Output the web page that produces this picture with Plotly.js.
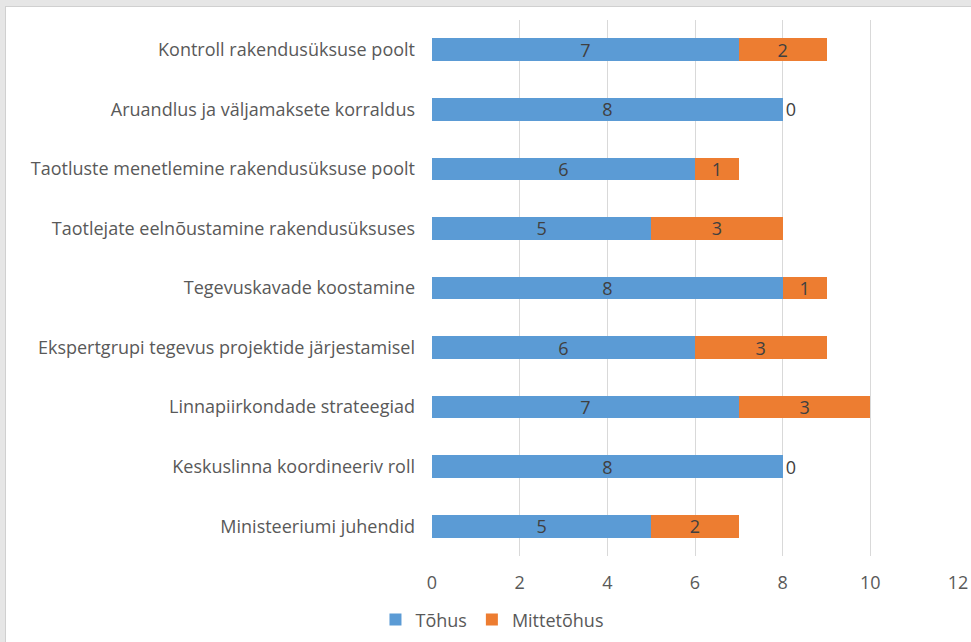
<!DOCTYPE html>
<html>
<head>
<meta charset="utf-8">
<script src="https://cdn.plot.ly/plotly-3.0.1.min.js"></script>
<style>
  html, body { margin: 0; padding: 0; background: #e6e6e6; width: 971px; height: 642px; overflow: hidden; }
  #frame { position: absolute; left: 5px; top: 6px; width: 966px; height: 636px; background: #fff; border-left: 1px solid #d0d0d0; border-top: 1px solid #d0d0d0; }
  #chart { position: absolute; left: 0; top: 0; width: 965px; height: 635px; }
</style>
</head>
<body>
<div id="frame"><div id="chart"></div></div>
<script>
const categories = [
  "Ministeeriumi juhendid",
  "Keskuslinna koordineeriv roll",
  "Linnapiirkondade strateegiad",
  "Ekspertgrupi tegevus projektide järjestamisel",
  "Tegevuskavade koostamine",
  "Taotlejate eelnõustamine rakendusüksuses",
  "Taotluste menetlemine rakendusüksuse poolt",
  "Aruandlus ja väljamaksete korraldus",
  "Kontroll rakendusüksuse poolt"
];
const tohus = [5, 8, 7, 6, 8, 5, 6, 8, 7];
const mittetohus = [2, 0, 3, 3, 1, 3, 1, 0, 2];
const xTicks = [0, 2, 4, 6, 8, 10, 12];

const FONT = "'Open Sans', sans-serif";
const labelFont = {family: FONT, size: 18, color: "#404040"};

function mk(name, vals, color) {
  return {
    type: "bar", orientation: "h", name: name,
    y: categories, x: vals,
    text: vals.map(String),
    textposition: vals.map(v => v === 0 ? "outside" : "inside"),
    textangle: 0,
    insidetextanchor: "middle",
    insidetextfont: labelFont,
    outsidetextfont: labelFont,
    textfont: labelFont,
    constraintext: "none",
    cliponaxis: false,
    marker: {color: color, line: {width: 0}},
    hoverinfo: "x+name"
  };
}

const data = [
  mk("Tõhus", tohus, "#5b9bd5"),
  mk("Mittetõhus", mittetohus, "#ed7d31")
];

const layout = {
  width: 965, height: 635,
  barmode: "stack",
  bargap: 0.62,
  paper_bgcolor: "#ffffff",
  plot_bgcolor: "#ffffff",
  margin: {l: 426, r: 13, t: 13, b: 86, pad: 0, autoexpand: false},
  font: {family: FONT, size: 18, color: "#595959"},
  showlegend: true,
  legend: {
    orientation: "h",
    xref: "container", yref: "container",
    x: 0.5036, xanchor: "center", y: 0.035, yanchor: "middle",
    font: {family: FONT, size: 18, color: "#595959"},
    itemwidth: 30, traceorder: "normal"
  },
  xaxis: {
    range: [0, 12], tickvals: xTicks, ticktext: xTicks.map(String),
    showgrid: true, gridcolor: "#d9d9d9", gridwidth: 1,
    zeroline: false, showline: false, ticks: "",
    ticklabelstandoff: 14,
    tickfont: {family: FONT, size: 18, color: "#595959"}
  },
  yaxis: {
    type: "category", showgrid: false, zeroline: false, showline: false, ticks: "",
    ticklabelstandoff: 16,
    tickfont: {family: FONT, size: 18, color: "#595959"}
  }
};

Plotly.newPlot("chart", data, layout, {displayModeBar: false, staticPlot: true});
</script>
</body>
</html>
